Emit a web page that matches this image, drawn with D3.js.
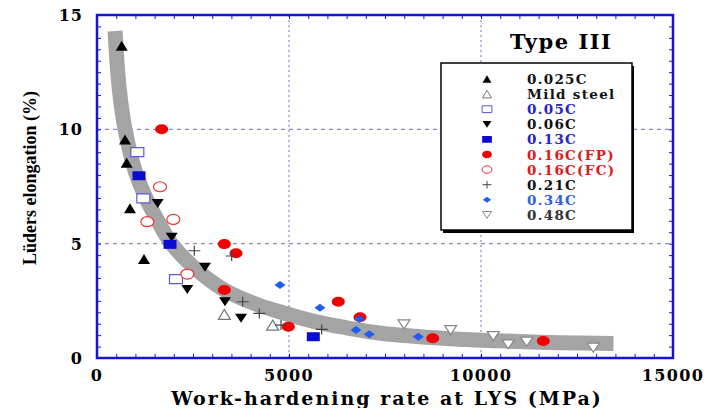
<!DOCTYPE html>
<html>
<head>
<meta charset="utf-8">
<script src="https://cdn.jsdelivr.net/npm/d3@7/dist/d3.min.js"></script>
<style>
body { margin: 0; background: #fff; }
</style>
</head>
<body>
<div id="chart"></div>
<script>
// axis ticks
const xTicks = [0, 5000, 10000, 15000];
const yTicks = [0, 5, 10, 15];
const gridX = [5000, 10000];
const gridY = [5, 10];

// fitted band
const fitX = [470, 540, 620, 730, 990, 1300, 1550, 1940, 2500, 3290, 4070, 4800, 5650, 6500, 7400, 9100, 10500, 12000, 13450];
const fitY = [14.3, 12.5, 11.2, 10.0, 8.2, 6.9, 6.1, 5.0, 4.0, 3.0, 2.4, 2.0, 1.6, 1.32, 1.08, 0.85, 0.75, 0.67, 0.63];

// measured points [work-hardening rate MPa, Lüders elongation %]
const c025 = [[643, 13.66], [729, 9.56], [773, 8.54], [859, 6.55], [1224, 4.33]];
const mild = [[3316, 1.91], [4575, 1.44]];
const c05 = [[1050, 9.0], [1207, 6.98], [2057, 3.45]];
const c06 = [[1580, 6.76], [1944, 5.28], [2812, 3.97], [2352, 3.0], [3333, 2.46], [3750, 1.74]];
const c13 = [[1094, 7.97], [1901, 4.97], [5633, 0.93]];
const c16fp = [[1684, 10.0], [3316, 4.98], [3620, 4.58], [3316, 2.97], [4983, 1.37], [6284, 2.46], [6849, 1.78], [8742, 0.86], [11622, 0.74]];
const c16fc = [[1641, 7.49], [1310, 5.96], [1987, 6.06], [2352, 3.67]];
const c21 = [[2534, 4.69], [3507, 4.46], [3794, 2.46], [4227, 1.95], [4792, 1.44], [5851, 1.25]];
const c34 = [[4766, 3.19], [5807, 2.2], [6831, 1.71], [6745, 1.22], [7091, 1.04], [8367, 0.93]];
const c48 = [[7994, 1.47], [9210, 1.22], [10320, 0.96], [10710, 0.6], [11190, 0.71], [12924, 0.45]];

const series = [
  {name: '0.025C', pts: c025, shape: 'triUp', fill: '#000', stroke: 'none', text: '#111'},
  {name: 'Mild steel', pts: mild, shape: 'triUp', fill: '#fff', stroke: '#777', text: '#111'},
  {name: '0.05C', pts: c05, shape: 'rect', fill: '#fff', stroke: '#5a5ad8', text: '#2424c8'},
  {name: '0.06C', pts: c06, shape: 'triDown', fill: '#000', stroke: 'none', text: '#111'},
  {name: '0.13C', pts: c13, shape: 'rect', fill: '#0a0ad0', stroke: 'none', text: '#2424c8'},
  {name: '0.16C(FP)', pts: c16fp, shape: 'ellipse', fill: '#f20000', stroke: 'none', text: '#e01818'},
  {name: '0.16C(FC)', pts: c16fc, shape: 'ellipse', fill: '#fff', stroke: '#f03030', text: '#e01818'},
  {name: '0.21C', pts: c21, shape: 'plus', fill: 'none', stroke: '#444', text: '#111'},
  {name: '0.34C', pts: c34, shape: 'diamond', fill: '#1f5cf0', stroke: 'none', text: '#3060e0'},
  {name: '0.48C', pts: c48, shape: 'triDown', fill: '#fff', stroke: '#888', text: '#333'}
];

const margin = {top: 15, right: 33, bottom: 50, left: 97};
const W = 706, H = 408;
const width = W - margin.left - margin.right;
const height = H - margin.top - margin.bottom;

const svg = d3.select('#chart').append('svg')
  .attr('width', W)
  .attr('height', H);

const g = svg.append('g')
  .attr('transform', `translate(${margin.left},${margin.top})`);

const x = d3.scaleLinear().domain([0, 15000]).range([0, width]);
const y = d3.scaleLinear().domain([0, 15]).range([height, 0]);

const axisBlue = '#1414d2';
const serif = '"DejaVu Serif", serif';

// grid
g.selectAll('.gx').data(gridX).enter().append('line')
  .attr('x1', d => x(d)).attr('x2', d => x(d))
  .attr('y1', 0).attr('y2', height)
  .attr('stroke', '#8a8ad0').attr('stroke-width', 1.2)
  .attr('stroke-dasharray', '2,3');
g.selectAll('.gy').data(gridY).enter().append('line')
  .attr('x1', 0).attr('x2', width)
  .attr('y1', d => y(d)).attr('y2', d => y(d))
  .attr('stroke', '#8a8ad0').attr('stroke-width', 1.2)
  .attr('stroke-dasharray', '4,4');

// band
const line = d3.line()
  .x(d => x(d[0]))
  .y(d => y(d[1]))
  .curve(d3.curveCatmullRom);
g.append('path')
  .datum(fitX.map((v, i) => [v, fitY[i]]))
  .attr('fill', 'none')
  .attr('stroke', '#a4a4a4')
  .attr('stroke-width', 15)
  .attr('d', line);

// axes with inward ticks on all sides
const minorX = d3.range(0, 15001, 500);
const minorY = d3.range(0, 15.01, 0.5);
g.append('g').attr('transform', `translate(0,${height})`)
  .call(d3.axisBottom(x).tickValues(minorX).tickSize(-4).tickFormat(''));
g.append('g')
  .call(d3.axisTop(x).tickValues(minorX).tickSize(-4).tickFormat(''));
g.append('g')
  .call(d3.axisLeft(y).tickValues(minorY).tickSize(-4).tickFormat(''));
g.append('g').attr('transform', `translate(${width},0)`)
  .call(d3.axisRight(y).tickValues(minorY).tickSize(-4).tickFormat(''));
g.selectAll('.tick line').attr('stroke', axisBlue);
g.selectAll('.domain').remove();

g.append('rect')
  .attr('width', width).attr('height', height)
  .attr('fill', 'none')
  .attr('stroke', axisBlue)
  .attr('stroke-width', 2.5);

// tick labels
g.selectAll('.xl').data(xTicks).enter().append('text')
  .attr('x', d => x(d))
  .attr('y', height + 23)
  .attr('text-anchor', 'middle')
  .style('font-family', serif).style('font-weight', 'bold').style('font-size', '16px')
  .style('letter-spacing', '1.4px')
  .text(d => d);
g.selectAll('.yl').data(yTicks).enter().append('text')
  .attr('x', -14)
  .attr('y', d => y(d) + 6)
  .attr('text-anchor', 'end')
  .style('font-family', serif).style('font-weight', 'bold').style('font-size', '16px')
  .style('letter-spacing', '1px')
  .text(d => d);

// axis titles
svg.append('text')
  .attr('x', 387).attr('y', 405)
  .attr('text-anchor', 'middle')
  .style('font-family', serif).style('font-weight', 'bold').style('font-size', '19px')
  .style('letter-spacing', '2px')
  .text('Work-hardening rate at LYS (MPa)');
svg.append('text')
  .attr('transform', 'translate(36,178) rotate(-90)')
  .attr('text-anchor', 'middle')
  .style('font-family', '"Liberation Serif", serif').style('font-weight', 'bold').style('font-size', '18px')
  .text('Lüders elongation (%)');

// marker shapes
function shapePath(shape, w, h) {
  switch (shape) {
    case 'triUp': return `M0,${-h / 2}L${w / 2},${h / 2}L${-w / 2},${h / 2}Z`;
    case 'triDown': return `M0,${h / 2}L${w / 2},${-h / 2}L${-w / 2},${-h / 2}Z`;
    case 'rect': return `M${-w / 2},${-h / 2}H${w / 2}V${h / 2}H${-w / 2}Z`;
    case 'diamond': return `M0,${-h / 2}L${w / 2},0L0,${h / 2}L${-w / 2},0Z`;
    case 'plus': return `M${-w / 2},0H${w / 2}M0,${-h / 2}V${h / 2}`;
    case 'ellipse':
      return `M${-w / 2},0A${w / 2},${h / 2} 0 1,0 ${w / 2},0A${w / 2},${h / 2} 0 1,0 ${-w / 2},0Z`;
  }
}
const sizes = {triUp: [12, 10], triDown: [12, 9], rect: [13, 9], ellipse: [13, 10], diamond: [11, 8], plus: [12, 10]};

series.forEach(s => {
  const [w, h] = sizes[s.shape];
  g.selectAll(null).data(s.pts).enter().append('path')
    .attr('transform', d => `translate(${x(d[0])},${y(d[1])})`)
    .attr('d', shapePath(s.shape, w, h))
    .attr('fill', s.fill)
    .attr('stroke', s.stroke)
    .attr('stroke-width', 1.2);
});

// legend
svg.append('text')
  .attr('x', 510).attr('y', 49)
  .style('font-family', serif).style('font-weight', 'bold').style('font-size', '21px')
  .style('letter-spacing', '1.5px')
  .text('Type III');

const lg = svg.append('g').attr('transform', 'translate(441,63)');
lg.append('rect').attr('x', 2).attr('y', 3).attr('width', 191).attr('height', 167).attr('fill', '#000');
lg.append('rect').attr('width', 191).attr('height', 167)
  .attr('fill', '#fff').attr('stroke', '#000').attr('stroke-width', 1.5);

series.forEach((s, i) => {
  const [w, h] = sizes[s.shape];
  const ry = 16 + i * 15.1;
  lg.append('path')
    .attr('transform', `translate(46,${ry})`)
    .attr('d', shapePath(s.shape, w * 0.75, h * 0.75))
    .attr('fill', s.fill)
    .attr('stroke', s.stroke)
    .attr('stroke-width', 1);
  lg.append('text')
    .attr('x', 86).attr('y', ry + 5)
    .style('font-family', serif).style('font-weight', 'bold').style('font-size', '13.5px')
    .style('letter-spacing', '1.3px')
    .attr('fill', s.text)
    .text(s.name);
});
</script>
</body>
</html>
